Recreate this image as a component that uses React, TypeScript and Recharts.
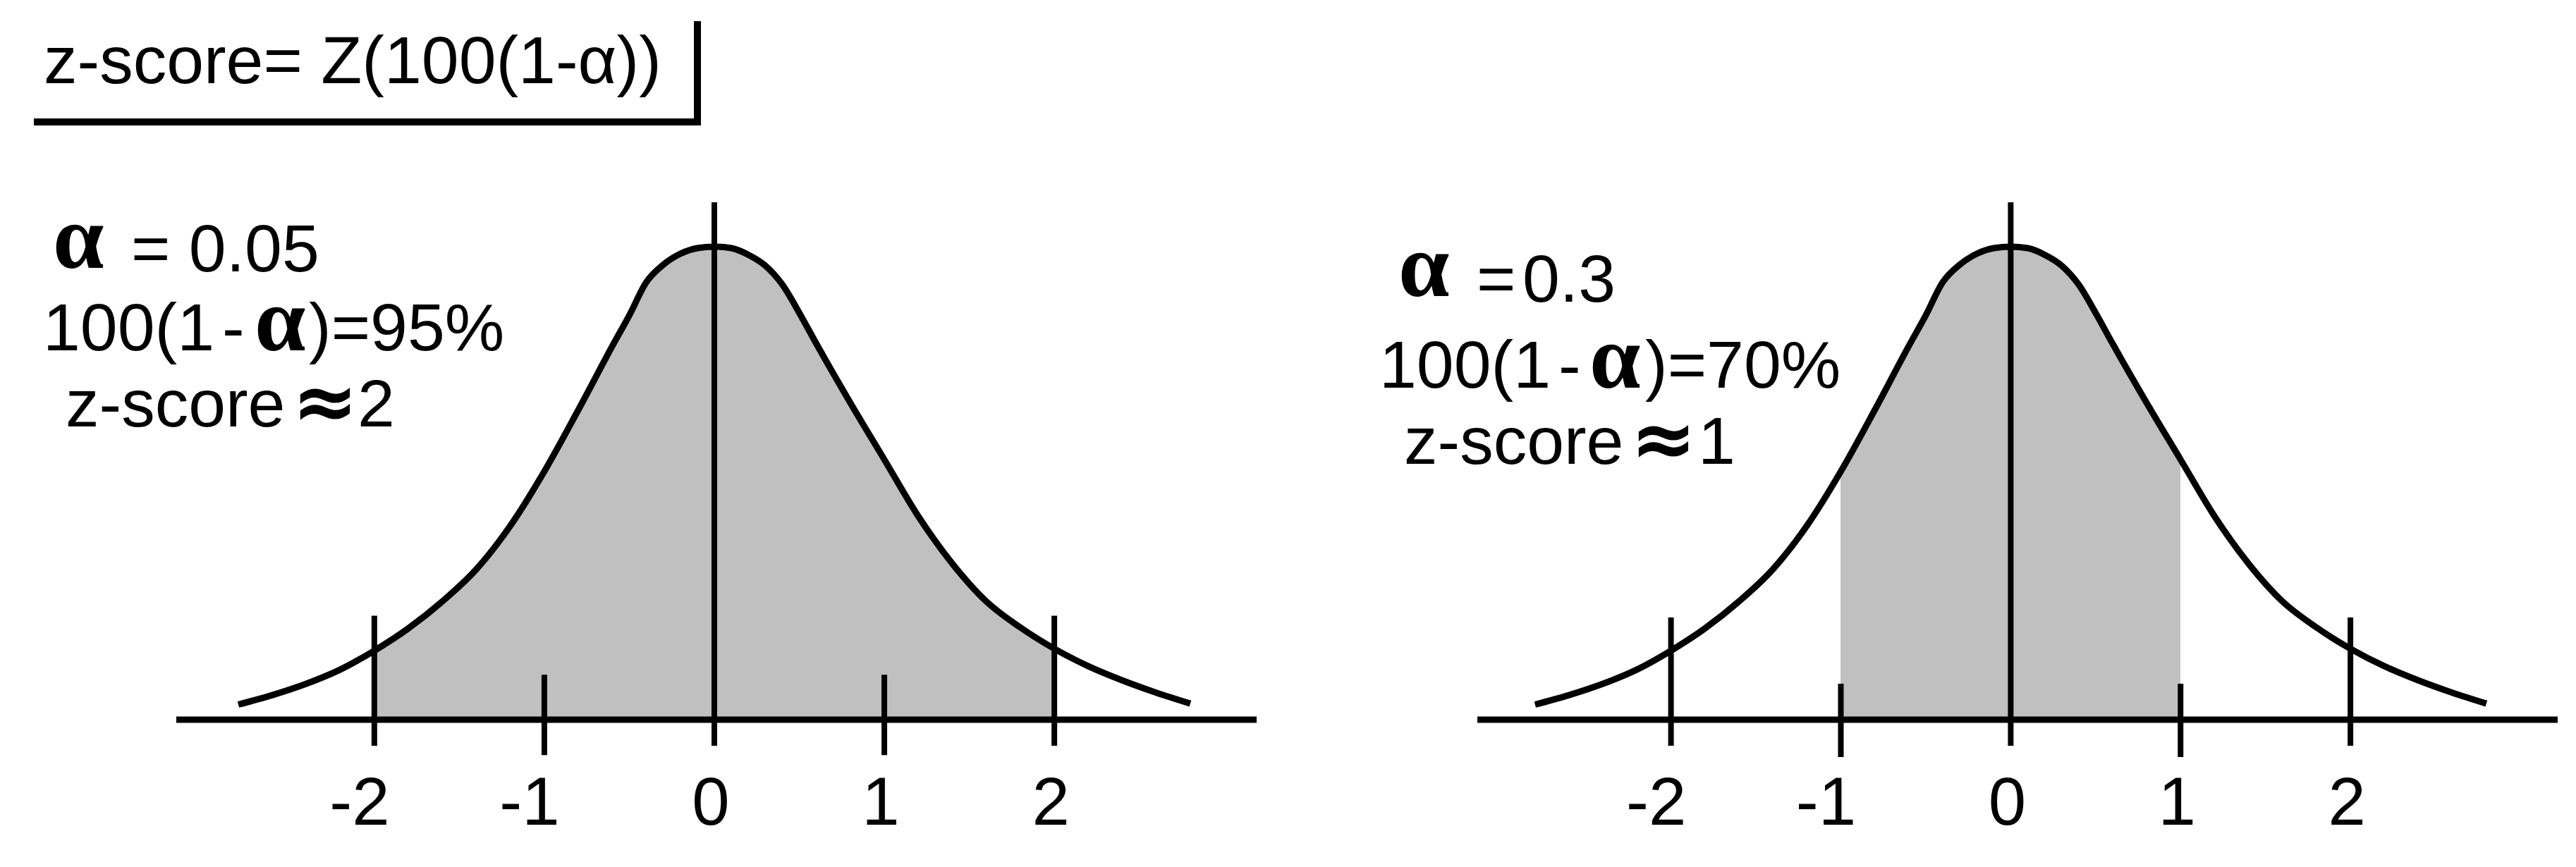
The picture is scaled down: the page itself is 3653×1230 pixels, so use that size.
import React from 'react';
import { ComposedChart, Area, XAxis, YAxis, ReferenceLine } from 'recharts';

// z positions along the horizontal axis and the read-off curve heights (peak = 1)
const zValues = [-2.8, -2.6, -2.4, -2.2, -2.0, -1.8, -1.6, -1.4, -1.2, -1.0, -0.8, -0.6, -0.5, -0.4, -0.3, -0.2, -0.1, 0, 0.1, 0.2, 0.3, 0.4, 0.5, 0.6, 0.8, 1.0, 1.2, 1.4, 1.6, 1.8, 2.0, 2.2, 2.4, 2.6, 2.8];
const curveHeights = [0.032, 0.052, 0.076, 0.106, 0.146, 0.193, 0.25, 0.318, 0.41, 0.525, 0.655, 0.79, 0.855, 0.925, 0.962, 0.985, 0.997, 1.0, 0.997, 0.983, 0.96, 0.92, 0.86, 0.795, 0.67, 0.55, 0.43, 0.33, 0.25, 0.195, 0.15, 0.113, 0.083, 0.057, 0.034];

const tickValues = [-2, -1, 0, 1, 2];
const tickLabels = ['-2', '-1', '0', '1', '2'];
const leftTickTops = [0.22, 0.095, 1.094, 0.095, 0.22];
const leftTickBottoms = [-0.055, -0.075, -0.055, -0.075, -0.055];
const rightTickTops = [0.216, 0.076, 1.094, 0.076, 0.216];
const rightTickBottoms = [-0.055, -0.079, -0.055, -0.079, -0.055];

const leftShadeRange = [-2, 2];
const rightShadeRange = [-1, 1];

const leftDomain = [-3.165, 3.19];
const rightDomain = [-3.14, 3.22];

const SANS = '"Liberation Sans", Arial, sans-serif';
const SERIF = '"Liberation Serif", "Times New Roman", serif';
const GRAY = '#c0c0c0';

const rows = zValues.map((z, i) => ({ z, y: curveHeights[i] }));

const TickLabel = (props: any) => {
  const { x, y, payload } = props;
  const idx = tickValues.indexOf(payload.value);
  const label = idx >= 0 ? tickLabels[idx] : String(payload.value);
  const neg = payload.value < 0;
  return (
    <text
      x={x - 5 - (neg ? 16 : 0)}
      y={y + 149}
      textAnchor="middle"
      fontFamily={SANS}
      fontSize={96}
      fill="#000"
    >
      {label}
    </text>
  );
};

function BellChart(props: {
  id: string;
  left: number;
  width: number;
  margin: { top: number; right: number; bottom: number; left: number };
  domain: number[];
  shade: number[];
  tops: number[];
  bottoms: number[];
}) {
  const zMin = zValues[0];
  const zMax = zValues[zValues.length - 1];
  const f1 = (props.shade[0] - zMin) / (zMax - zMin);
  const f2 = (props.shade[1] - zMin) / (zMax - zMin);
  return (
    <div style={{ position: 'absolute', left: props.left, top: 0, width: props.width, height: 1230 }}>
      <ComposedChart width={props.width} height={1230} data={rows} margin={props.margin}>
        <defs>
          <linearGradient id={props.id} x1="0" y1="0" x2="1" y2="0">
            <stop offset={0} stopColor={GRAY} stopOpacity={0} />
            <stop offset={f1} stopColor={GRAY} stopOpacity={0} />
            <stop offset={f1} stopColor={GRAY} stopOpacity={1} />
            <stop offset={f2} stopColor={GRAY} stopOpacity={1} />
            <stop offset={f2} stopColor={GRAY} stopOpacity={0} />
            <stop offset={1} stopColor={GRAY} stopOpacity={0} />
          </linearGradient>
        </defs>
        <XAxis
          dataKey="z"
          type="number"
          domain={props.domain}
          allowDataOverflow
          ticks={tickValues}
          axisLine={false}
          tickLine={false}
          tickSize={0}
          tickMargin={0}
          height={1}
          tick={<TickLabel />}
          interval={0}
        />
        <YAxis hide type="number" domain={[0, 1.1]} allowDataOverflow />
        <Area
          dataKey="y"
          type="monotone"
          stroke="#000"
          strokeWidth={9}
          fill={`url(#${props.id})`}
          fillOpacity={1}
          isAnimationActive={false}
          dot={false}
          activeDot={false}
        />
        {tickValues.map((t, i) => (
          <ReferenceLine
            key={'t' + i}
            segment={[
              { x: t, y: props.tops[i] },
              { x: t, y: props.bottoms[i] },
            ]}
            stroke="#000"
            strokeWidth={8}
            ifOverflow="visible"
          />
        ))}
        <ReferenceLine y={0} stroke="#000" strokeWidth={9} ifOverflow="visible" />
      </ComposedChart>
    </div>
  );
}

function Annotations() {
  const sans = { fontFamily: SANS, fontSize: 95, fill: '#000' };
  const alpha = { fontFamily: SERIF, fontSize: 130, fontWeight: 700, fill: '#000' } as any;
  const approx = { fontFamily: '"DejaVu Sans", sans-serif', fontSize: 112, fontWeight: 700, fill: '#000' } as any;
  return (
    <svg
      width={3653}
      height={1230}
      style={{ position: 'absolute', left: 0, top: 0, pointerEvents: 'none' }}
    >
      {/* title box */}
      <text x={62} y={118} {...sans}>z-score= Z(100(1-α))</text>
      <line x1={48} y1={173} x2={994} y2={173} stroke="#000" strokeWidth={10} />
      <line x1={989} y1={30} x2={989} y2={178} stroke="#000" strokeWidth={10} />

      {/* left annotations */}
      <text x={75} y={380} {...alpha}>α</text>
      <text x={186} y={385} {...sans}>= 0.05</text>
      <text x={61} y={497} {...sans}>100(1</text>
      <text x={315} y={497} {...sans}>-</text>
      <text x={361} y={497} {...alpha}>α</text>
      <text x={438} y={497} {...sans}>)=95%</text>
      <text x={93} y={605} {...sans}>z-score</text>
      <text x={414} y={608} {...approx}>≈</text>
      <text x={507} y={605} {...sans}>2</text>

      {/* right annotations */}
      <text x={1983} y={420} {...alpha}>α</text>
      <text x={2094} y={428} {...sans}>=</text>
      <text x={2159} y={428} {...sans}>0.3</text>
      <text x={1956} y={550} {...sans}>100(1</text>
      <text x={2210} y={550} {...sans}>-</text>
      <text x={2254} y={550} {...alpha}>α</text>
      <text x={2333} y={550} {...sans}>)=70%</text>
      <text x={1991} y={658} {...sans}>z-score</text>
      <text x={2312} y={661} {...approx}>≈</text>
      <text x={2408} y={658} {...sans}>1</text>
    </svg>
  );
}

export default function App() {
  return (
    <div style={{ position: 'absolute', left: 0, top: 0, width: 3653, height: 1230, background: '#fff', overflow: 'hidden' }}>
      <BellChart
        id="shadeLeft"
        left={0}
        width={1830}
        margin={{ top: 282.9, right: 48, bottom: 208, left: 250 }}
        domain={leftDomain}
        shade={leftShadeRange}
        tops={leftTickTops}
        bottoms={leftTickBottoms}
      />
      <BellChart
        id="shadeRight"
        left={1830}
        width={1823}
        margin={{ top: 282.9, right: 26, bottom: 208, left: 265 }}
        domain={rightDomain}
        shade={rightShadeRange}
        tops={rightTickTops}
        bottoms={rightTickBottoms}
      />
      <Annotations />
    </div>
  );
}
